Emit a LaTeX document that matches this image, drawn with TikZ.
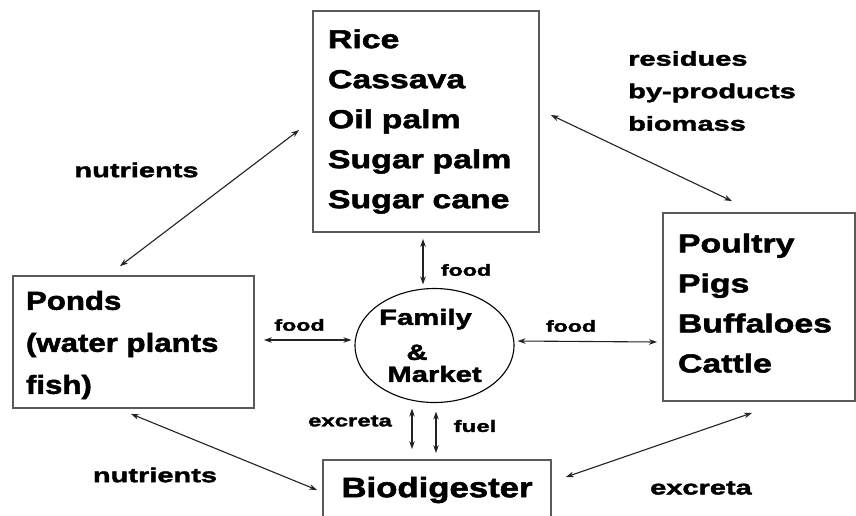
\documentclass[tikz,border=0pt]{standalone}
\usepackage{fontspec}
\usetikzlibrary{arrows.meta,shapes.geometric}
\newfontfamily\boxf{Liberation Sans Bold}[FakeStretch=1.3,FakeBold=2]
\newfontfamily\pondf{Liberation Sans Bold}[FakeStretch=1.2,FakeBold=2]
\newfontfamily\biof{Liberation Sans Bold}[FakeStretch=1.24,FakeBold=2]
\newfontfamily\famf{Liberation Sans Bold}[FakeStretch=1.33,FakeBold=2]
\newfontfamily\labf{Liberation Sans Bold}[FakeStretch=1.45,FakeBold=2]
\definecolor{boxgray}{HTML}{5A5A5A}
\definecolor{arrowc}{HTML}{222222}
\begin{document}
\begin{tikzpicture}[x=1pt,y=-1pt,
  box/.style={draw=boxgray, line width=1.8pt, rectangle, inner sep=0pt, align=left},
  conn/.style={draw=arrowc, line width=1.1pt, {Stealth[length=8pt,width=5.5pt]}-{Stealth[length=8pt,width=5.5pt]}},
  lab/.style={inner sep=0pt, font=\labf\fontsize{20}{32.5}\selectfont},
  slab/.style={inner sep=0pt, font=\labf\fontsize{16}{20}\selectfont}]
\useasboundingbox (0,0) rectangle (856,515);
\fill[white] (0,0) rectangle (856,515);
\clip (0,0) rectangle (856,515);

% boxes
\node[box, inner xsep=15pt, text width=196pt, minimum height=221pt,
      font=\boxf\fontsize{26}{40}\selectfont] (crops) at (426,121.5)
  {Rice\\Cassava\\Oil palm\\Sugar palm\\Sugar cane};
\node[box, inner xsep=13pt, text width=215pt, minimum height=132pt,
      font=\pondf\fontsize{26}{42}\selectfont] (ponds) at (133.5,342)
  {\rule{0pt}{25pt}Ponds\\(water plants\\fish)};
\node[box, inner xsep=15pt, text width=162pt, minimum height=188pt,
      font=\boxf\fontsize{26}{40}\selectfont] (live) at (759,307)
  {Poultry\\Pigs\\Buffaloes\\Cattle\rule[-8pt]{0pt}{8pt}};
\node[box, align=center, minimum width=228pt, minimum height=60pt,
      font=\biof\fontsize{28}{34}\selectfont] (bio) at (437,490)
  {Biodigester};
\node[draw=black, line width=1.1pt, ellipse, inner sep=0pt,
      minimum width=159pt, minimum height=114pt, align=center,
      font=\famf\fontsize{22}{37}\selectfont] (fam) at (434.5,345.5)
  {\hspace*{-18pt}Family\\[-2pt]\makebox[0pt][c]{\hspace*{-35pt}\&}\\[-15pt]Market};

% labels
\node[lab] (lnut1) at (136.5,170) {nutrients};
\node[lab, align=left, anchor=west] (lres) at (628,91) {residues\\by-products\\biomass};
\node[slab] (lfood1) at (466,270) {food};
\node[slab] (lfood2) at (299.5,325) {food};
\node[slab] (lfood3) at (571,326) {food};
\node[slab, font=\labf\fontsize{16.5}{20}\selectfont] (lexc1) at (350,421) {excreta};
\node[slab, font=\labf\fontsize{16.5}{20}\selectfont] (lfuel) at (475,426) {fuel};
\node[lab] (lnut2) at (155,475) {nutrients};
\node[lab] (lexc2) at (701,488) {excreta};

% connectors
\draw[conn] ([shift={(-13,8.5)}]crops.west) -- ([shift={(-13.5,-9)}]ponds.north);
\draw[conn] ([shift={(11,-6.5)}]crops.east) -- ([shift={(-27,-11)}]live.north);
\draw[conn] ([shift={(-3,6)}]crops.south) -- ([shift={(-11.5,-3.5)}]fam.north);
\draw[conn] ([shift={(9,-2)}]ponds.east) -- ([shift={(-3,-5.5)}]fam.west);
\draw[conn] ([shift={(3,-4.5)}]fam.east) -- ([shift={(-5,35)}]live.west);
\draw[conn] ([shift={(-22.5,5.5)}]fam.south) -- ([shift={(-25,-10)}]bio.north);
\draw[conn] ([shift={(1.5,8.5)}]fam.south) -- ([shift={(-1,-6)}]bio.north);
\draw[conn] ([shift={(-2.5,5)}]ponds.south) -- ([shift={(-5,0)}]bio.west);
\draw[conn] ([shift={(-7,11)}]live.south) -- ([shift={(14,-13)}]bio.east);
\end{tikzpicture}
\end{document}
